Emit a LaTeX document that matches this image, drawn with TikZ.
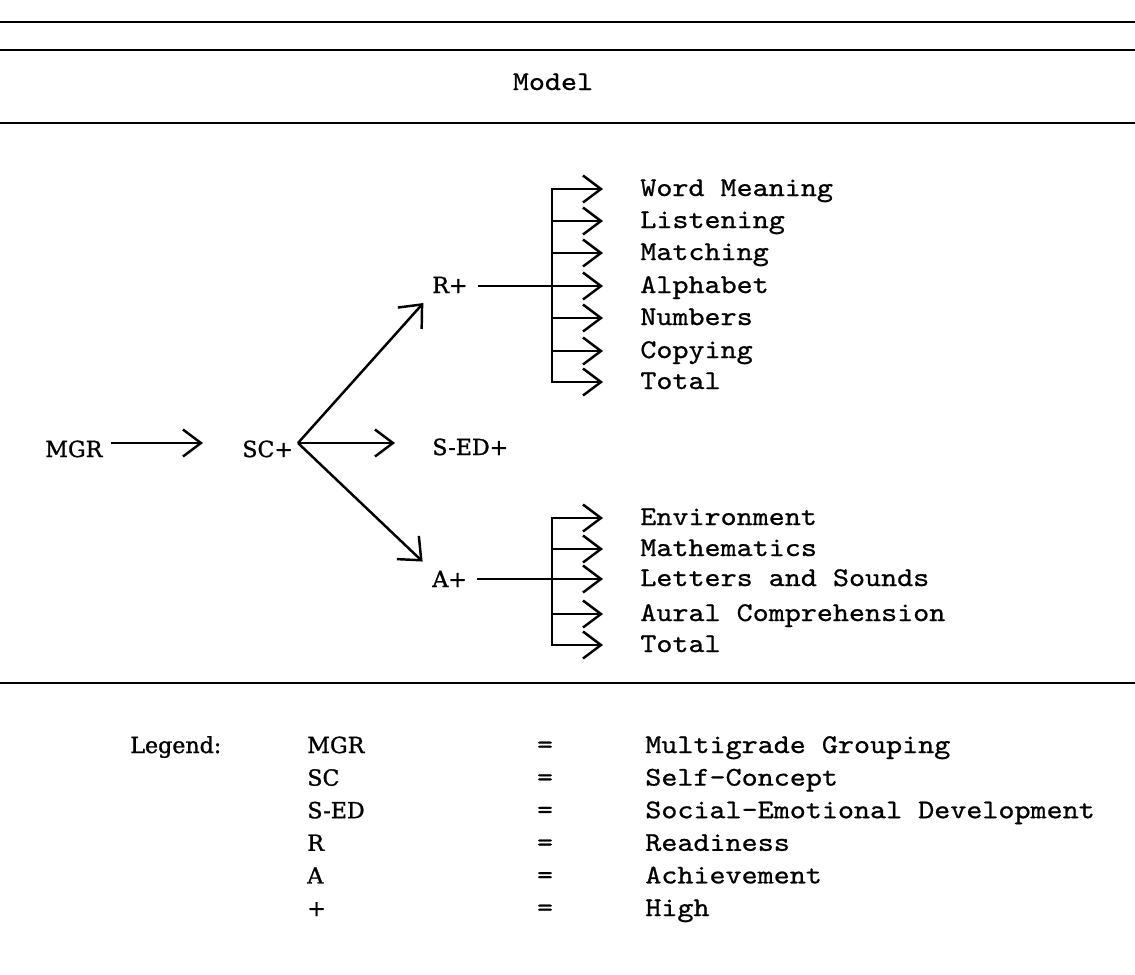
\documentclass[tikz,border=0pt]{standalone}
\usepackage{fontspec}
\usetikzlibrary{arrows.meta}
\newfontfamily\twfont{lmmono10-regular.otf}[FakeStretch=1.13,FakeBold=0.8]
\newfontfamily\srfont{DejaVu Serif}[FakeBold=1.2]
\begin{document}
\begin{tikzpicture}[x=0.02cm,y=-0.02cm,
  tw/.style={font=\twfont\fontsize{15.4}{18}\selectfont, inner sep=0pt},
  twl/.style={tw, anchor=west, text height=0.32cm, text depth=0.04cm},
  sr/.style={font=\srfont\fontsize{12.6}{15}\selectfont, inner sep=0pt, anchor=base west},
  rule/.style={line width=1.6pt},
  link/.style={line width=1.4pt},
  barb/.tip={Straight Barb[length=0.36cm,width=0.54cm,line width=1.4pt]},
  dbarb/.tip={Straight Barb[length=0.37cm,width=0.64cm,line width=1.4pt]},
  arr/.style={link,-barb},
  darr/.style={link,-dbarb}]
\useasboundingbox (0,0) rectangle (1135,974);

% horizontal rules
\draw[rule] (0,22) -- (1135,22);
\draw[rule] (0,50) -- (1135,50);
\draw[rule] (0,123) -- (1135,123);
\draw[rule] (0,683) -- (1135,683);

\node[tw, anchor=base] (model) at (553,90) {Model};

% main nodes
\node[sr] (mgr) at (45,457) {MGR};
\node[sr] (sc)  at (242,457) {SC+};
\node[sr] (sed) at (432,455) {S-ED+};
\node[sr] (rp)  at (432,293) {R+};
\node[sr] (ap)  at (432,587) {A+};

\coordinate (v) at (298,443);
\coordinate (rb) at (552,0);

\draw[arr, shorten <=0.16cm, shorten >=0.78cm] (mgr.east |- v) -- (sc.west |- v);
\draw[arr, shorten >=0.74cm] (v) -- (sed.west |- v);
\draw[darr, shorten >=0.26cm] (v) -- (rp.south west);
\draw[darr, shorten >=0.26cm] (v) -- (ap.north west);

% readiness outcomes
\node[twl] (w1) at (640,189) {Word Meaning};
\node[twl] (w2) at (640,221) {Listening};
\node[twl] (w3) at (640,253) {Matching};
\node[twl] (w4) at (640,286) {Alphabet};
\node[twl] (w5) at (640,318) {Numbers};
\node[twl] (w6) at (640,351) {Copying};
\node[twl] (w7) at (640,382) {Total};

\draw[link, barb-barb, shorten <=0.74cm, shorten >=0.74cm]
  (w1.west) -- (w1.west -| rb) -- (w7.west -| rb) -- (w7.west);
\foreach \n in {w2,w3,w5,w6}
  \draw[arr, shorten >=0.74cm] (\n.west -| rb) -- (\n.west);
\draw[arr, shorten <=0.2cm, shorten >=0.74cm] (rp.east |- w4.west) -- (w4.west);

% achievement outcomes
\node[twl] (e1) at (640,518) {Environment};
\node[twl] (e2) at (640,549) {Mathematics};
\node[twl] (e3) at (640,579) {Letters and Sounds};
\node[twl] (e4) at (640,614) {Aural Comprehension};
\node[twl] (e5) at (640,645) {Total};

\draw[link, barb-barb, shorten <=0.74cm, shorten >=0.74cm]
  (e1.west) -- (e1.west -| rb) -- (e5.west -| rb) -- (e5.west);
\foreach \n in {e2,e4}
  \draw[arr, shorten >=0.74cm] (\n.west -| rb) -- (\n.west);
\draw[arr, shorten <=0.2cm, shorten >=0.74cm] (ap.east |- e3.west) -- (e3.west);

% legend
\node[sr] (leg) at (130,753) {Legend:};
\foreach \k/\a/\d [count=\i from 0] in
  {l1/MGR/Multigrade Grouping, l2/SC/Self-Concept, l3/S-ED/Social-Emotional Development,
   l4/R/Readiness, l5/A/Achievement, l6/+/High}{
  \node[sr] (\k a) at (307,753+32.6*\i) {\a};
  \node[tw, anchor=base] (\k e) at (545,753+32.6*\i) {=};
  \node[tw, anchor=base west] (\k d) at (645,753+32.6*\i) {\d};
}
\end{tikzpicture}
\end{document}
